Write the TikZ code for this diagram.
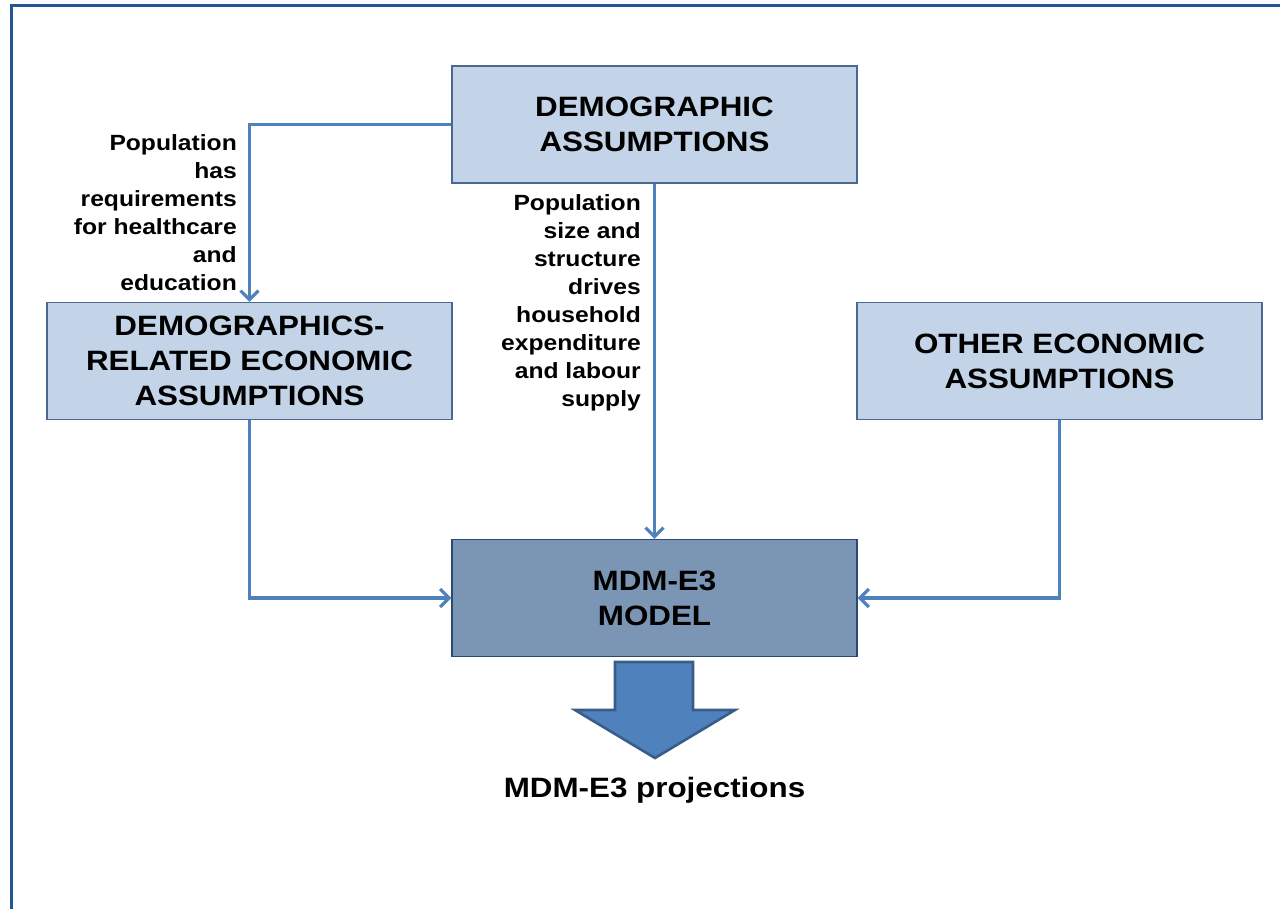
\documentclass[tikz,border=0pt]{standalone}
\usepackage{fontspec}
\setmainfont{Liberation Sans}[FakeStretch=1.12]
\usetikzlibrary{arrows.meta}
\definecolor{boxlight}{HTML}{C3D4E8}
\definecolor{boxdark}{HTML}{7B95B5}
\definecolor{boxline}{HTML}{4A6890}
\definecolor{flowblue}{HTML}{4F81BD}
\definecolor{arrowedge}{HTML}{385D8A}
\definecolor{framecol}{HTML}{24578F}
\begin{document}
\begin{tikzpicture}[x=1pt,y=-1pt,
  box/.style={draw=boxline, line width=1.2pt, fill=boxlight,
    minimum width=405pt, minimum height=117pt, align=center,
    inner sep=0pt, font=\fontsize{28}{35}\selectfont\bfseries},
  modelbox/.style={box, fill=boxdark, draw=arrowedge!80!black},
  flow/.style={draw=flowblue, line width=3.2pt,
    -{Straight Barb[length=9pt,width=18pt,line width=3.2pt]}},
  note/.style={align=right, inner sep=0pt,
    font=\fontsize{22}{28}\selectfont\bfseries}]
  \useasboundingbox (0,0) rectangle (1280,909);
  % page frame (top and left edges)
  \draw[framecol, line width=3pt] (11,920) -- (11,6) -- (1290,6);

  % boxes
  \node[box] (demo)  at (654.5,124.5) {DEMOGRAPHIC\\ASSUMPTIONS};
  \node[box] (drel)  at (249.5,361)   {DEMOGRAPHICS-\\RELATED ECONOMIC\\ASSUMPTIONS};
  \node[box] (other) at (1059.5,361)  {OTHER ECONOMIC\\ASSUMPTIONS};
  \node[modelbox] (model) at (654.5,598) {MDM-E3\\MODEL};

  % connectors
  \draw[flow] (demo.west) -| (drel.north);
  \draw[flow] (demo.south) -- (model.north);
  \draw[flow] (drel.south) |- (model.west);
  \draw[flow] (other.south) |- (model.east);

  % connector notes
  \node[note, anchor=east] (n1) at (237,213)
    {Population\\has\\requirements\\for healthcare\\and\\education};
  \node[note, anchor=east] (n2) at (641,303)
    {Population\\size and\\structure\\drives\\household\\expenditure\\and labour\\supply};

  % output block arrow
  \draw[fill=flowblue, draw=arrowedge, line width=2.6pt, line join=miter]
    (615,662) -- (693,662) -- (693,710) -- (735,710) -- (655,758)
    -- (575,710) -- (615,710) -- cycle;
  \node[inner sep=0pt, font=\fontsize{28}{33}\selectfont\bfseries] (proj)
    at (654.5,790) {MDM-E3 projections};
\end{tikzpicture}
\end{document}
